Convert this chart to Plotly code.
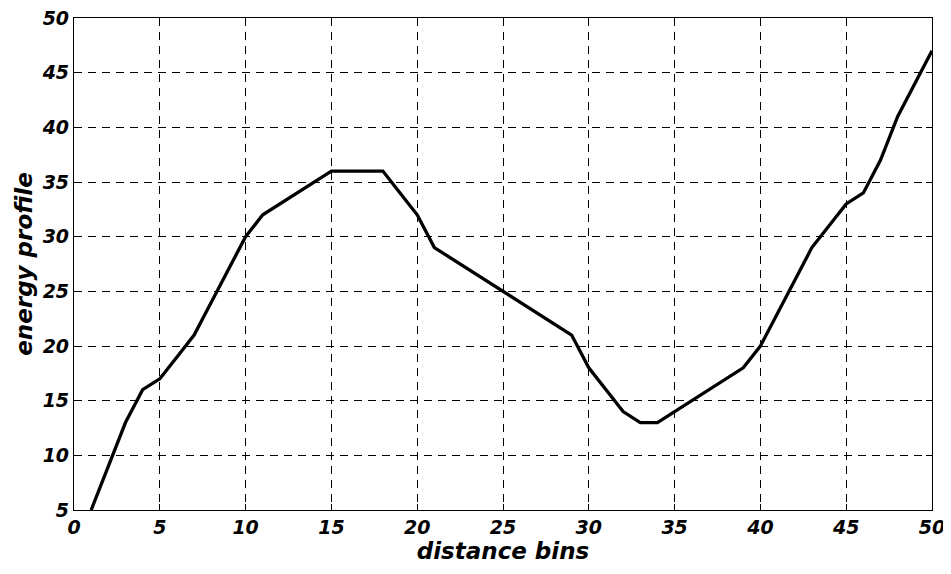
import plotly.graph_objects as go

bins = list(range(1, 51))
energy = [5, 9, 13, 16, 17, 19, 21, 24, 27, 30,
          32, 33, 34, 35, 36, 36, 36, 36, 34, 32,
          29, 28, 27, 26, 25, 24, 23, 22, 21, 18,
          16, 14, 13, 13, 14, 15, 16, 17, 18, 20,
          23, 26, 29, 31, 33, 34, 37, 41, 44, 47]

x_title = "distance bins"
y_title = "energy profile"

FONT = "DejaVu Sans, Arial, sans-serif"

fig = go.Figure()
fig.add_trace(go.Scatter(x=bins, y=energy, mode="lines",
                         line=dict(color="black", width=3.3),
                         showlegend=False, hoverinfo="skip"))

axis_common = dict(
    showgrid=True, gridcolor="black", gridwidth=1, griddash="8px,6px",
    showline=True, linecolor="black", linewidth=1.2, mirror="ticks",
    ticks="inside", ticklen=6, tickcolor="black", tickwidth=1,
    zeroline=False, automargin=False, ticklabeloverflow="allow",
    tickfont=dict(family=FONT, size=19, color="black", weight="bold", style="italic"),
)

fig.update_xaxes(range=[0, 50], dtick=5, tick0=0,
                 title=dict(text=x_title, standoff=2,
                            font=dict(family=FONT, size=23, color="black",
                                      weight="bold", style="italic")),
                 **axis_common)
fig.update_yaxes(range=[5, 50], dtick=5, tick0=5,
                 title=dict(text=y_title, standoff=2,
                            font=dict(family=FONT, size=23, color="black",
                                      weight="bold", style="italic")),
                 **axis_common)

fig.update_layout(width=943, height=566,
                  margin=dict(l=66, r=19, t=10, b=64),
                  paper_bgcolor="white", plot_bgcolor="white")

fig.write_html("out.html")
